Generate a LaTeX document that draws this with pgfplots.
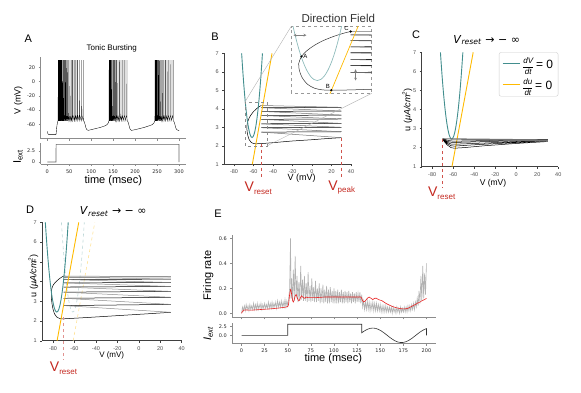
\documentclass[border=0pt]{standalone}
\usepackage{amsmath}
\usepackage{pgfplots}
\pgfplotsset{compat=1.18}
\usepackage{fontspec}
\setmainfont{Liberation Sans}
\newfontfamily\dejavu{DejaVu Sans}

\definecolor{tealnc}{RGB}{66,142,142}
\definecolor{goldnc}{RGB}{255,186,0}
\definecolor{redlab}{RGB}{196,40,32}
\definecolor{redrate}{RGB}{232,36,36}

\newcommand\fs[1]{\fontsize{#1}{#1}\selectfont}
\newcommand\Vlab[1]{{\fs{14}V}\raisebox{-2.5pt}{\fs{8}#1}}
\newcommand\lfrac[1]{{\fs{8}$\dfrac{\text{\itshape d#1}}{\text{\itshape dt}}$}\,{\fs{12}= 0}}

\pgfplotsset{
  panel/.style={
    scale only axis, anchor=south west, clip=false,
    axis lines=left, axis line style={-, black!75, line width=0.6pt},
    tick align=outside, major tick length=2pt,
    tick style={black!75, line width=0.4pt},
    tick label style={font=\fs{5.5}, text=black!70},
    /pgf/number format/assume math mode=true,
    unbounded coords=jump,
  },
  mpl/.style={panel, axis line style={-, black!45, line width=0.5pt},
    tick style={black!45}, tick label style={font=\dejavu\fs{5}, text=black!85}},
}

\begin{document}
\begin{tikzpicture}
\path[use as bounding box] (0pt,0pt) rectangle (581pt,-392pt);

% ---------------- A: membrane potential
\begin{axis}[mpl, at={(40.7pt,-138.55pt)}, width=144.9pt, height=81.9pt,
  xmin=-15, xmax=315, ymin=-80, ymax=35,
  xtick={0,50,...,300}, xticklabels={}, ytick={-60,-40,-20,0,20}]
\addplot[black, line width=0.35pt] coordinates {
 (0,-70) (1.5,-73.5) (4,-74.5) (19.8,-74.5) (20.3,-72) (21.5,-64) (23,-58) (24.3,-55)
 (24.7,-47) (25,30) (25.05,-51) (25.35,-55)
 (25.9,-47) (26.2,30) (26.25,-51) (26.55,-55)
 (27.1,-47) (27.4,30) (27.45,-51) (27.75,-55)
 (28.4,-47) (28.7,30) (28.75,-51) (29.05,-55)
 (29.7,-47) (30,30) (30.05,-51) (30.35,-55)
 (31.2,-47) (31.5,30) (31.55,-51) (31.85,-55)
 (32.7,-47) (33,30) (33.05,-51) (33.35,-55)
 (34.3,-47) (34.6,30) (34.65,-51) (34.95,-55)
 (36,-47) (36.3,30) (36.35,-51) (36.65,-55)
 (37.8,-47) (38.1,30) (38.15,-51) (38.45,-55)
 (39.7,-47) (40,30) (40.05,-51) (40.35,-55)
 (41.7,-47) (42,30) (42.05,-51) (42.35,-55)
 (43.9,-47) (44.2,30) (44.25,-51) (44.55,-55)
 (46.2,-47) (46.5,30) (46.55,-51) (46.85,-55)
 (48.7,-47) (49,30) (49.05,-51) (49.35,-55)
 (51.4,-47) (51.7,30) (51.75,-51) (52.05,-55)
 (54.3,-47) (54.6,30) (54.65,-51) (54.95,-55)
 (57.5,-47) (57.8,30) (57.85,-51) (58.15,-55)
 (60.9,-47) (61.2,30) (61.25,-51) (61.55,-55)
 (64.7,-47) (65,30) (65.05,-51) (65.35,-55)
 (68.7,-47) (69,30) (69.05,-51) (69.35,-55)
 (73.2,-47) (73.5,30) (73.55,-51) (73.85,-55)
 (77.7,-47) (78,30) (78.05,-51) (78.35,-55)
 (81.7,-47) (82,30) (82.05,-51) (82.35,-55)
 (84,-56) (86,-60) (88,-65) (90,-67.5) (93,-68.5) (100,-67.5) (110,-66) (120,-64.5)
 (130,-62.5) (136,-60.5) (139,-58) (140.4,-55)
 (140.7,-47) (141,30) (141.05,-51) (141.35,-55)
 (142,-47) (142.3,30) (142.35,-51) (142.65,-55)
 (143.4,-47) (143.7,30) (143.75,-51) (144.05,-55)
 (144.9,-47) (145.2,30) (145.25,-51) (145.55,-55)
 (146.5,-47) (146.8,30) (146.85,-51) (147.15,-55)
 (148.3,-47) (148.6,30) (148.65,-51) (148.95,-55)
 (150.3,-47) (150.6,30) (150.65,-51) (150.95,-55)
 (152.5,-47) (152.8,30) (152.85,-51) (153.15,-55)
 (155,-47) (155.3,30) (155.35,-51) (155.65,-55)
 (157.7,-47) (158,30) (158.05,-51) (158.35,-55)
 (160.7,-47) (161,30) (161.05,-51) (161.35,-55)
 (164,-47) (164.3,30) (164.35,-51) (164.65,-55)
 (167.7,-47) (168,30) (168.05,-51) (168.35,-55)
 (171.9,-47) (172.2,30) (172.25,-51) (172.55,-55)
 (176.5,-47) (176.8,30) (176.85,-51) (177.15,-55)
 (181.2,-47) (181.5,30) (181.55,-51) (181.85,-55)
 (183.5,-56) (185.5,-60) (187.5,-65) (189.5,-67.5) (192,-68.5) (200,-67.5) (210,-66)
 (220,-64.5) (230,-62.5) (239,-60.5) (243,-58) (244.9,-55)
 (245.2,-47) (245.5,30) (245.55,-51) (245.85,-55)
 (246.4,-47) (246.7,30) (246.75,-51) (247.05,-55)
 (247.7,-47) (248,30) (248.05,-51) (248.35,-55)
 (249.2,-47) (249.5,30) (249.55,-51) (249.85,-55)
 (250.8,-47) (251.1,30) (251.15,-51) (251.45,-55)
 (252.6,-47) (252.9,30) (252.95,-51) (253.25,-55)
 (254.6,-47) (254.9,30) (254.95,-51) (255.25,-55)
 (256.8,-47) (257.1,30) (257.15,-51) (257.45,-55)
 (259.3,-47) (259.6,30) (259.65,-51) (259.95,-55)
 (262.1,-47) (262.4,30) (262.45,-51) (262.75,-55)
 (265.2,-47) (265.5,30) (265.55,-51) (265.85,-55)
 (268.7,-47) (269,30) (269.05,-51) (269.35,-55)
 (272.5,-47) (272.8,30) (272.85,-51) (273.15,-55)
 (276.7,-47) (277,30) (277.05,-51) (277.35,-55)
 (281.3,-47) (281.6,30) (281.65,-51) (281.95,-55)
 (286.2,-47) (286.5,30) (286.55,-51) (286.85,-55)
 (288.5,-56) (290.5,-60) (292.5,-65) (295,-67.5) (298,-68.5) (300,-68.5)
};
\end{axis}

% ---------------- A: current
\begin{axis}[mpl, at={(40.7pt,-163.76pt)}, width=144.9pt, height=21.1pt,
  xmin=-15, xmax=315, ymin=-0.4, ymax=4.4,
  xtick={0,50,...,300}, ytick={0,2.5}, yticklabels={0,2.5}]
\addplot[black!60, line width=0.6pt] coordinates {(0,0) (19.8,0) (20,4) (300,4) (300,0)};
\end{axis}

% ---------------- B: phase plane
\begin{axis}[panel, at={(224.25pt,-164.3pt)}, width=126.75pt, height=111pt,
  xmin=-90, xmax=40, ymin=1, ymax=7, xtick={-80,-60,...,40}, ytick={1,...,7}]
\addplot[black, line width=0.5pt, smooth] coordinates {
 (-52,4.18) (-54,4.12) (-57,4.0) (-60,3.85) (-62.5,3.68) (-64.5,3.5) (-66,3.3) (-66.8,3.05)
 (-66.6,2.8) (-65.8,2.55) (-64.3,2.32) (-62.3,2.18) (-60,2.12) (-57.5,2.11) (-52,2.12)
 (-40,2.17) (-20,2.26) (0,2.33) (15,2.39) (30,2.44)};
\addplot[black, line width=0.5pt] coordinates {
 (-52,2.74) (30,2.76) (0,nan) (-52,2.98) (30,3.0) (0,nan) (-52,3.19) (30,3.21) (0,nan)
 (-52,3.43) (30,3.45) (0,nan) (-52,3.64) (30,3.66) (0,nan) (-52,3.86) (30,3.88) (0,nan)
 (-52,4.06) (30,4.08)};
\addplot[black!55, line width=0.5pt] coordinates {
 (30,2.44) (-52,2.74) (0,nan) (30,2.76) (-52,2.98) (0,nan) (30,3.0) (-52,3.19) (0,nan)
 (30,3.21) (-52,3.43) (0,nan) (30,3.45) (-52,3.64) (0,nan) (30,3.66) (-52,3.86) (0,nan)
 (30,3.88) (-52,4.06) (0,nan) (30,4.08) (-52,4.18)};
\addplot[tealnc, line width=0.9pt, smooth] coordinates {
 (-72.17,7) (-71.5,6.45) (-70.5,5.69) (-69.5,5.01) (-68.5,4.41) (-67.5,3.89) (-66.5,3.45)
 (-65.5,3.09) (-64.5,2.81) (-63.5,2.61) (-62.5,2.49) (-61.5,2.45) (-60.5,2.49) (-59.5,2.61)
 (-58.5,2.81) (-57.5,3.09) (-56.5,3.45) (-55.5,3.89) (-54.5,4.41) (-53.5,5.01) (-52.5,5.69)
 (-51.5,6.45) (-50.83,7)};
\addplot[goldnc, line width=0.9pt] coordinates {(-61.2,1) (-41,7)};
\draw[black!45, dashed, line width=0.4pt] (axis cs:-69,2.0) rectangle (axis cs:-46,4.35);
\draw[redlab!80, dashed, line width=0.6pt] (axis cs:-52,2.12) -- (axis cs:-52,0.3);
\draw[redlab!80, dashed, line width=0.6pt] (axis cs:30,2.44) -- (axis cs:30,0.3);
\end{axis}

% ---------------- B: inset
\begin{axis}[scale only axis, anchor=south west, at={(291pt,-93.3pt)}, width=80.7pt, height=66.6pt,
  xmin=-69, xmax=-46, ymin=2.0, ymax=4.35, ticks=none, unbounded coords=jump,
  axis line style={black!40, dashed, line width=0.5pt}]
\addplot[black!80, line width=0.5pt, smooth] coordinates {
 (-52,4.18) (-54,4.12) (-57,4.0) (-60,3.85) (-62.5,3.68) (-64.5,3.5) (-66,3.3) (-66.8,3.05)
 (-66.6,2.8) (-65.8,2.55) (-64.3,2.32) (-62.3,2.18) (-60,2.12) (-57.5,2.11) (-52,2.12)
 (-40,2.17) (-20,2.26)};
\addplot[black, line width=0.6pt] coordinates {
 (-52,2.74) (30,2.76) (0,nan) (-52,2.98) (30,3.0) (0,nan) (-52,3.19) (30,3.21) (0,nan)
 (-52,3.43) (30,3.45) (0,nan) (-52,3.64) (30,3.66) (0,nan) (-52,3.86) (30,3.88) (0,nan)
 (-52,4.06) (30,4.08)};
\addplot[black!55, line width=0.5pt] coordinates {
 (30,2.44) (-52,2.74) (0,nan) (30,2.76) (-52,2.98) (0,nan) (30,3.0) (-52,3.19) (0,nan)
 (30,3.21) (-52,3.43) (0,nan) (30,3.45) (-52,3.64) (0,nan) (30,3.66) (-52,3.86) (0,nan)
 (30,3.88) (-52,4.06) (0,nan) (30,4.08) (-52,4.18)};
\addplot[tealnc!60, line width=0.7pt, smooth] coordinates {
 (-72.17,7) (-71.5,6.45) (-70.5,5.69) (-69.5,5.01) (-68.5,4.41) (-67.5,3.89) (-66.5,3.45)
 (-65.5,3.09) (-64.5,2.81) (-63.5,2.61) (-62.5,2.49) (-61.5,2.45) (-60.5,2.49) (-59.5,2.61)
 (-58.5,2.81) (-57.5,3.09) (-56.5,3.45) (-55.5,3.89) (-54.5,4.41) (-53.5,5.01) (-52.5,5.69)
 (-51.5,6.45) (-50.83,7)};
\addplot[goldnc, line width=0.7pt] coordinates {(-61.2,1) (-41,7)};
\addplot[only marks, mark=*, mark size=0.9pt, black] coordinates {(-66,3.3) (-57.5,2.11) (-52,4.18)};
\node[font=\fs{6}, anchor=west, inner sep=1pt] at (axis cs:-65.8,3.3) {A};
\node[font=\fs{6}, anchor=south east, inner sep=1pt] at (axis cs:-57.6,2.11) {B};
\node[font=\fs{6}, anchor=south east, inner sep=1pt] at (axis cs:-52.2,4.18) {C};
\draw[black!50, <->, >=stealth, line width=0.3pt] (axis cs:-68.3,4.05) -- (axis cs:-64.6,4.05);
\draw[black!50, <->, >=stealth, line width=0.3pt] (axis cs:-50.6,2.45) -- (axis cs:-50.6,2.85);
\end{axis}
\draw[black!30, line width=0.4pt] (244.7pt,-102.3pt) -- (291pt,-26.7pt);
\draw[black!30, line width=0.4pt] (267.2pt,-145.8pt) -- (371.7pt,-93.3pt);

% ---------------- C
\begin{axis}[panel, at={(421.7pt,-166.7pt)}, width=136.6pt, height=114.4pt,
  xmin=-90, xmax=40, ymin=1, ymax=7, xtick={-80,-60,...,40}, ytick={1,...,7},
  legend style={at={(1,1)}, anchor=north east, draw=black!20, rounded corners=2pt,
    inner xsep=3pt, inner ysep=3pt, row sep=4pt, fill=white},
  legend cell align=left]
\addlegendimage{tealnc, line width=1.1pt}
\addlegendentry{\lfrac{V}}
\addlegendimage{goldnc, line width=1.1pt}
\addlegendentry{\lfrac{u}}
\addplot[tealnc, line width=0.9pt, smooth, forget plot] coordinates {
 (-72.17,7) (-71.5,6.45) (-70.5,5.69) (-69.5,5.01) (-68.5,4.41) (-67.5,3.89) (-66.5,3.45)
 (-65.5,3.09) (-64.5,2.81) (-63.5,2.61) (-62.5,2.49) (-61.5,2.45) (-60.5,2.49) (-59.5,2.61)
 (-58.5,2.81) (-57.5,3.09) (-56.5,3.45) (-55.5,3.89) (-54.5,4.41) (-53.5,5.01) (-52.5,5.69)
 (-51.5,6.45) (-50.83,7)};
\addplot[goldnc, line width=0.9pt, forget plot] coordinates {(-61.2,1) (-41,7)};
\addplot[black, line width=0.5pt, forget plot] coordinates {
 (-70,2.42) (-66,2.15) (-62,2.0) (-59,1.97) (-50,2.0) (-30,2.1) (0,2.22) (30,2.32) (0,nan)
 (-70,2.45) (-66,2.22) (-62,2.1) (-59,2.08) (-40,2.15) (0,2.27) (30,2.36) (0,nan)
 (-70,2.46) (-66,2.28) (-62,2.19) (-58,2.18) (0,2.31) (30,2.39) (0,nan)
 (-70,2.47) (-66,2.33) (-61,2.27) (0,2.36) (30,2.42) (0,nan)
 (-70,2.48) (-65,2.38) (-60,2.34) (0,2.4) (30,2.44)};
\addplot[black!55, line width=0.5pt, forget plot] coordinates {
 (30,2.32) (-70,2.45) (0,nan) (30,2.36) (-70,2.46) (0,nan) (30,2.39) (-70,2.47) (0,nan)
 (30,2.42) (-70,2.48)};
\draw[redlab!80, dashed, line width=0.6pt] (axis cs:-70,2.45) -- (axis cs:-70,-0.1);
\end{axis}

% ---------------- D
\begin{axis}[panel, at={(42.3pt,-340.7pt)}, width=139.4pt, height=118.4pt,
  xmin=-90, xmax=40, ymin=1, ymax=7, xtick={-80,-60,...,40}, ytick={1,...,7}]
\addplot[tealnc!35, dashed, line width=0.6pt, smooth] coordinates {
 (-72.17,7) (-71.5,6.45) (-70.5,5.69) (-69.5,5.01) (-68.5,4.41) (-67.5,3.89) (-66.5,3.45)
 (-65.5,3.09) (-64.5,2.81) (-63.5,2.61) (-62.5,2.49) (-61.5,2.45) (-60.5,2.49) (-59.5,2.61)
 (-58.5,2.81) (-57.5,3.09) (-56.5,3.45) (-55.5,3.89) (-54.5,4.41) (-53.5,5.01) (-52.5,5.69)
 (-51.5,6.45) (-50.83,7)};
\addplot[goldnc!40, dashed, line width=0.6pt] coordinates {(-61.2,1) (-41,7)};
\addplot[black, line width=0.5pt, smooth] coordinates {
 (-70,4.28) (-72,4.22) (-75,4.1) (-78,3.95) (-80.5,3.75) (-81.5,3.5) (-81.6,3.2) (-81,2.9)
 (-80,2.6) (-78.5,2.35) (-76.5,2.2) (-74,2.13) (-72,2.11) (-70,2.11) (-50,2.17) (-20,2.27)
 (10,2.37) (30,2.44)};
\addplot[black, line width=0.5pt] coordinates {
 (-70,2.78) (30,2.84) (0,nan) (-70,3.15) (30,3.2) (0,nan) (-70,3.46) (30,3.5) (0,nan)
 (-70,3.72) (30,3.75) (0,nan) (-70,3.93) (30,3.95) (0,nan) (-70,4.1) (30,4.12) (0,nan)
 (-70,4.22) (30,4.24)};
\addplot[black!45, line width=0.5pt] coordinates {
 (30,2.44) (-70,2.78) (0,nan) (30,2.84) (-70,3.15) (0,nan) (30,3.2) (-70,3.46) (0,nan)
 (30,3.5) (-70,3.72) (0,nan) (30,3.75) (-70,3.93) (0,nan) (30,3.95) (-70,4.1) (0,nan)
 (30,4.12) (-70,4.22) (0,nan) (30,4.24) (-70,4.28)};
\addplot[tealnc, line width=0.9pt, smooth] coordinates {
 (-87.17,7) (-86.5,6.45) (-85.5,5.69) (-84.5,5.01) (-83.5,4.41) (-82.5,3.89) (-81.5,3.45)
 (-80.5,3.09) (-79.5,2.81) (-78.5,2.61) (-77.5,2.49) (-76.5,2.45) (-75.5,2.49) (-74.5,2.61)
 (-73.5,2.81) (-72.5,3.09) (-71.5,3.45) (-70.5,3.89) (-69.5,4.41) (-68.5,5.01) (-67.5,5.69)
 (-66.5,6.45) (-65.83,7)};
\addplot[goldnc, line width=0.9pt] coordinates {(-76.2,1) (-56,7)};
\draw[redlab!50, dashed, line width=1.1pt] (axis cs:-70,2.2) -- (axis cs:-70,0.05);
\end{axis}

% ---------------- E: firing rate
\begin{axis}[mpl, at={(232.3pt,-317.3pt)}, width=203.4pt, height=82.3pt,
  xmin=-10, xmax=210, ymin=-0.032, ymax=0.626,
  xtick={0,25,...,200}, xticklabels={}, ytick={0,0.2,0.4,0.6},
  yticklabel style={/pgf/number format/.cd, fixed, fixed zerofill, precision=1}]
\addplot[black!30, line width=0.6pt] coordinates {
 (0,0) (1,0.05) (2,0.02) (3,0.06) (4,0.02) (5,0.07) (6,0.03) (7,0.06) (8,0.02) (9,0.07)
 (10,0.03) (11,0.06) (12,0.03) (13,0.08) (14,0.03) (15,0.07) (16,0.03) (17,0.08) (18,0.03)
 (19,0.07) (20,0.04) (21,0.08) (22,0.03) (23,0.07) (24,0.04) (25,0.08) (26,0.04) (27,0.07)
 (28,0.04) (29,0.09) (30,0.04) (31,0.08) (32,0.04) (33,0.09) (34,0.04) (35,0.08) (36,0.05)
 (37,0.09) (38,0.04) (39,0.1) (40,0.05) (41,0.09) (42,0.05) (43,0.1) (44,0.05) (45,0.09)
 (46,0.05) (47,0.11) (48,0.05) (49,0.1) (50,0.06) (51,0.12) (52,0.2) (53,0.6) (53.5,0.12)
 (54,0.28) (55,0.1) (56,0.35) (57,0.1) (58,0.46) (59,0.12) (60,0.3) (61,0.09) (62,0.25)
 (63,0.1) (64,0.38) (65,0.11) (66,0.27) (67,0.1) (68,0.3) (69,0.1) (70,0.24) (71,0.09)
 (72,0.33) (73,0.1) (74,0.22) (75,0.09) (76,0.28) (77,0.1) (78,0.21) (79,0.09) (80,0.26)
 (81,0.09) (82,0.2) (83,0.1) (84,0.24) (85,0.08) (86,0.2) (87,0.09) (88,0.23) (89,0.08)
 (90,0.19) (91,0.09) (92,0.22) (93,0.08) (94,0.19) (95,0.08) (96,0.21) (97,0.09) (98,0.18)
 (99,0.08) (100,0.2) (101,0.08) (102,0.18) (103,0.08) (104,0.19) (105,0.08) (106,0.17)
 (107,0.09) (108,0.19) (109,0.08) (110,0.17) (111,0.08) (112,0.18) (113,0.09) (114,0.17)
 (115,0.08) (116,0.18) (117,0.09) (118,0.16) (119,0.08) (120,0.17) (121,0.09) (122,0.16)
 (123,0.08) (124,0.17) (125,0.09) (126,0.16) (127,0.09) (128,0.17) (129,0.08) (130,0.15)
 (131,0.05) (132,0.1) (133,0.03) (134,0.09) (135,0.03) (136,0.1) (137,0.03) (138,0.09)
 (139,0.02) (140,0.08) (141,0.03) (142,0.09) (143,0.02) (144,0.08) (145,0.02) (146,0.08)
 (147,0.02) (148,0.07) (149,0.02) (150,0.07) (151,0.01) (152,0.06) (153,0.01) (154,0.06)
 (155,0.01) (156,0.06) (157,0.01) (158,0.05) (159,0.01) (160,0.05) (161,0.01) (162,0.05)
 (163,0.0) (164,0.05) (165,0.01) (166,0.04) (167,0.0) (168,0.05) (169,0.01) (170,0.04)
 (171,0.0) (172,0.05) (173,0.01) (174,0.04) (175,0.01) (176,0.05) (177,0.01) (178,0.05)
 (179,0.01) (180,0.06) (181,0.02) (182,0.06) (183,0.02) (184,0.07) (185,0.03) (186,0.08)
 (187,0.03) (188,0.09) (189,0.05) (190,0.12) (191,0.06) (192,0.18) (193,0.08) (194,0.3)
 (195,0.1) (196,0.38) (197,0.12) (198,0.32) (199,0.15) (200,0.4)};
\addplot[redrate, line width=0.6pt, smooth] coordinates {
 (0,0) (2,0.025) (5,0.027) (10,0.025) (20,0.03) (30,0.035) (40,0.042) (48,0.05) (50,0.055)
 (51,0.08) (52,0.15) (53,0.19) (54,0.16) (55,0.11) (56,0.09) (57,0.11) (58,0.14) (59,0.15)
 (60,0.13) (61,0.11) (62,0.1) (63,0.11) (64,0.13) (65,0.14) (66,0.13) (68,0.12) (70,0.13)
 (72,0.125) (75,0.125) (80,0.125) (90,0.13) (100,0.13) (110,0.13) (120,0.13) (129,0.13)
 (130,0.12) (131,0.1) (132,0.09) (134,0.1) (136,0.12) (138,0.13) (140,0.12) (142,0.11)
 (144,0.12) (146,0.12) (148,0.11) (152,0.1) (156,0.08) (160,0.065) (165,0.05) (170,0.04)
 (175,0.035) (180,0.04) (185,0.06) (188,0.07) (190,0.08) (193,0.09) (195,0.1) (198,0.11)
 (200,0.12)};
\end{axis}

% ---------------- E: current
\begin{axis}[mpl, at={(232.3pt,-343.5pt)}, width=203.4pt, height=20.2pt,
  xmin=-10, xmax=210, ymin=-2.37, ymax=3.47,
  xtick={0,25,...,200}, ytick={0,2.5}, yticklabels={0.0,2.5}]
\addplot[black!80, line width=0.6pt] coordinates {
 (0,0) (50,0) (50,3.2) (130,3.2) (130,0.729) (133,1.285) (136,1.724) (139,2.004) (142,2.1)
 (145,2.004) (148,1.724) (151,1.285) (154,0.729) (157,0.106) (160,-0.525) (163,-1.109)
 (166,-1.594) (169,-1.93) (172,-2.089) (175,-2.057) (178,-1.837) (181,-1.445) (184,-0.924)
 (187,-0.318) (190,0.318) (193,0.924) (196,1.445) (199,1.837) (200,1.93) (200,0)};
\end{axis}

% ---------------- text
\node[font=\fs{11}] at (28.3pt,-38.3pt) {A};
\node[font=\fs{8}] at (111.7pt,-48.3pt) {Tonic Bursting};
\node[font=\fs{9}, rotate=90] at (18.3pt,-100pt) {V (mV)};
\node[font=\fs{11}, rotate=90] at (18pt,-157pt) {$\mathrm{I_{ext}}$};
\node[font=\fs{11}] at (113.3pt,-180.5pt) {time (msec)};

\node[font=\fs{11}] at (215pt,-36.7pt) {B};
\node[font=\fs{11.5}, text=black!80] at (338.3pt,-18.3pt) {Direction Field};
\node[font=\fs{9}] at (301.7pt,-178.3pt) {V (mV)};
\node[text=redlab] at (258.3pt,-188.3pt) {\Vlab{reset}};
\node[text=redlab] at (341.7pt,-187.3pt) {\Vlab{peak}};

\node[font=\fs{11}] at (416pt,-35pt) {C};
\node[font=\dejavu\fs{11}] at (486.7pt,-40pt) {\textit{V}\textsubscript{\textit{reset}} → − ∞};
\node[font=\fs{9}, rotate=90] at (407.3pt,-110pt) {u (\textit{μA/cm}\textsuperscript{\textit{2}})};
\node[font=\fs{8.5}] at (493pt,-183.3pt) {V (mV)};
\node[text=redlab] at (441.7pt,-193.3pt) {\Vlab{reset}};

\node[font=\fs{11}] at (30pt,-210pt) {D};
\node[font=\dejavu\fs{11}] at (113.3pt,-211.7pt) {\textit{V}\textsubscript{\textit{reset}} → − ∞};
\node[font=\fs{9}, rotate=90] at (33.3pt,-276pt) {u (\textit{μA/cm}\textsuperscript{\textit{2}})};
\node[font=\fs{8}] at (111.7pt,-355.5pt) {V (mV)};
\node[text=redlab] at (63.5pt,-368.3pt) {\Vlab{reset}};

\node[font=\fs{11}] at (218pt,-214pt) {E};
\node[font=\fs{11}, rotate=90] at (208.3pt,-275.5pt) {Firing rate};
\node[font=\fs{11}, rotate=90] at (208.3pt,-333.3pt) {\textit{I}\textsubscript{\textit{ext}}};
\node[font=\fs{11}] at (333.3pt,-358.3pt) {time (msec)};
\end{tikzpicture}
\end{document}
